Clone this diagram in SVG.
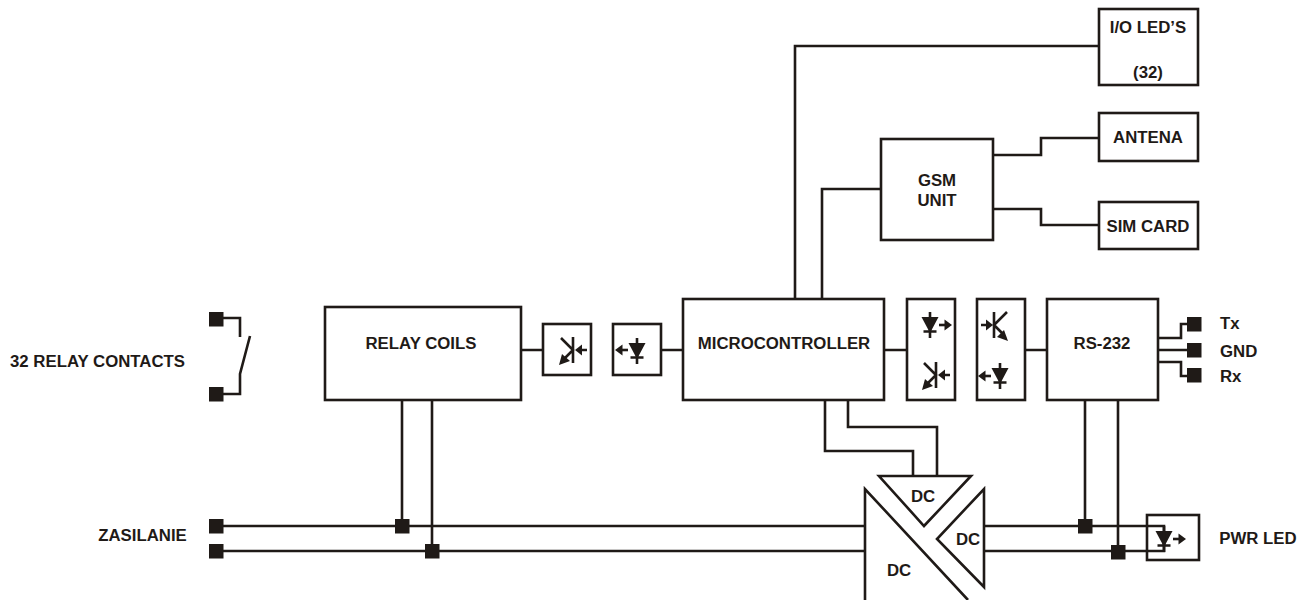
<svg xmlns="http://www.w3.org/2000/svg" width="1314" height="600" viewBox="0 0 1314 600">
<style>
.b{fill:#fff;stroke:#1f1a17;stroke-width:2.6}
.l{fill:none;stroke:#1f1a17;stroke-width:2.6}
.t{font-family:"Liberation Sans",Arial,sans-serif;font-weight:bold;font-size:16.8px;fill:#1f1a17;text-anchor:middle}
.st{text-anchor:start}
.s{fill:#1f1a17}
.g{stroke:#1f1a17;stroke-width:2.6;fill:none}
</style>
<defs>
<g id="led"><path class="s" d="M-8.5-8H8.5L0 8Z"/><path class="g" d="M0-13V13M-6.5 6.5H6.5"/></g>
<g id="arr"><path class="s" d="M-0.5-5.5L7 0L-0.5 5.5Z"/><path class="g" d="M-6 0H2"/></g>
<g id="ptr"><path class="g" d="M0-13V13M-12-12L0 0L-9 9M14 0H6"/><path class="s" d="M-14 15L-11 4L-3 11Z"/><path class="s" d="M2 0L9-5.5V5.5Z"/></g>
<g id="ptt"><path class="g" d="M0-13V13M13-13L0 0L9 9M-13 0H-6"/><path class="s" d="M14 16L3 12L10 5Z"/><path class="s" d="M-1 0L-8-5.5V5.5Z"/></g>
</defs>
<g id="connectors">
<path class="l" d="M795 299V46H1099"/>
<path class="l" d="M822 299V189H881"/>
<path class="l" d="M993 155H1041V138H1099"/>
<path class="l" d="M993 209H1041V225H1099"/>
<path class="l" d="M521 350H543M661 350H683M884 350H907M1025 350H1047"/>
<path class="l" d="M825 400V451H913V476M848 400V427H937V476"/>
<path class="l" d="M402 400V526M432 400V551"/>
<path class="l" d="M216 526H864M216 551H864"/>
<path class="l" d="M984 526H1164V536M984 551H1164V541"/>
<path class="l" d="M1085 400V526M1118 400V551"/>
<path class="l" d="M1158 338H1181V324H1194M1158 350H1194M1158 362H1181V376H1194"/>
<path class="l" d="M216 318H240V337M216 394H240V374L250 336"/>
<rect class="s" x="209" y="312" width="14.500" height="14.500"/>
<rect class="s" x="209" y="387" width="14.500" height="14.500"/>
<rect class="s" x="209" y="519" width="14.500" height="14.500"/>
<rect class="s" x="209" y="544" width="14.500" height="14.500"/>
<rect class="s" x="395" y="519" width="14.500" height="14.500"/>
<rect class="s" x="425" y="544" width="14.500" height="14.500"/>
<rect class="s" x="1078" y="519" width="14.500" height="14.500"/>
<rect class="s" x="1111" y="545" width="14.500" height="14.500"/>
<rect class="s" x="1187" y="317" width="14.500" height="14.500"/>
<rect class="s" x="1187" y="343" width="14.500" height="14.500"/>
<rect class="s" x="1187" y="368" width="14.500" height="14.500"/>
</g>
<g id="io-leds"><rect class="b" x="1099" y="9" width="99" height="76"/><text class="t" x="1148" y="33">I/O LED’S</text><text class="t" x="1148" y="78">(32)</text></g>
<g id="antena"><rect class="b" x="1099" y="113" width="99" height="48"/><text class="t" x="1148" y="143">ANTENA</text></g>
<g id="sim-card"><rect class="b" x="1099" y="202" width="99" height="47"/><text class="t" x="1148" y="232">SIM CARD</text></g>
<g id="gsm-unit"><rect class="b" x="881" y="139" width="112" height="101"/><text class="t" x="937" y="186">GSM</text><text class="t" x="937" y="206">UNIT</text></g>
<g id="relay-coils"><rect class="b" x="325" y="307" width="196" height="93"/><text class="t" x="421" y="349">RELAY COILS</text></g>
<g id="opto-1"><rect class="b" x="543" y="324" width="48" height="51"/><use href="#ptr" x="573" y="350"/></g>
<g id="opto-2"><rect class="b" x="613" y="324" width="48" height="51"/><use href="#led" x="637" y="351"/><use href="#arr" transform="translate(622 350) rotate(180)"/></g>
<g id="microcontroller"><rect class="b" x="683" y="299" width="201" height="101"/><text class="t" x="784" y="349">MICROCONTROLLER</text></g>
<g id="opto-3"><rect class="b" x="907" y="299" width="48" height="101"/><use href="#led" x="930" y="325"/><use href="#arr" x="945" y="325"/><use href="#ptr" x="936" y="375"/></g>
<g id="opto-4"><rect class="b" x="977" y="299" width="48" height="101"/><use href="#ptt" x="994" y="325"/><use href="#led" x="1000" y="376"/><use href="#arr" transform="translate(985 376) rotate(180)"/></g>
<g id="rs-232"><rect class="b" x="1047" y="299" width="111" height="101"/><text class="t" x="1102" y="349">RS-232</text></g>
<g id="dc-top"><path class="b" d="M879 476H971L924 526Z"/><text class="t" x="923" y="502">DC</text></g>
<g id="dc-right"><path class="b" d="M984 489V587L937 539Z"/><text class="t" x="968" y="545">DC</text></g>
<g id="dc-main"><path class="l" d="M865 600V489L968 600"/><text class="t" x="899" y="576">DC</text></g>
<g id="pwr-led"><rect class="l" x="1147" y="515" width="52" height="45"/><use href="#led" x="1164" y="539"/><use href="#arr" x="1179" y="539"/></g>
<g id="labels">
<text class="t" x="97.500" y="367">32 RELAY CONTACTS</text>
<text class="t" x="142.500" y="541">ZASILANIE</text>
<text class="t" x="1258" y="544">PWR LED</text>
<text class="t st" x="1220" y="329">Tx</text>
<text class="t st" x="1220" y="357">GND</text>
<text class="t st" x="1220" y="382">Rx</text>
</g>
</svg>
